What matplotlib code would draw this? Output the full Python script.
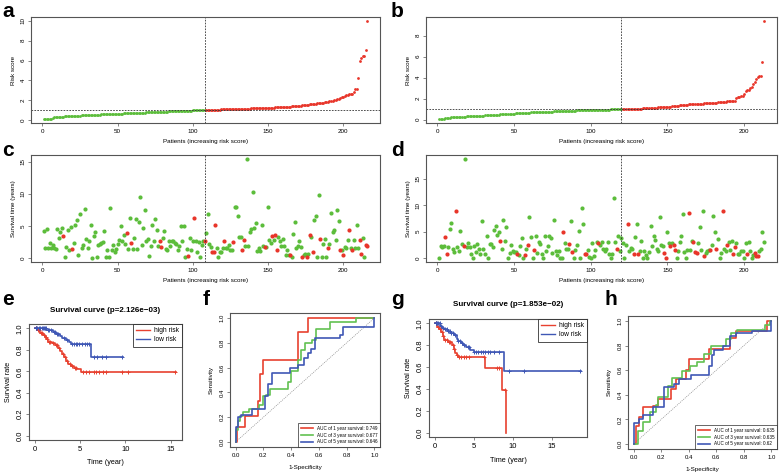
import numpy as np
import matplotlib.pyplot as plt

plt.rcParams['font.family'] = ['Liberation Sans', 'DejaVu Sans']

# Colores
GREEN = '#5cbd3b'
RED = '#e8352a'
KM_RED = '#e8412f'
KM_BLUE = '#3f57b5'
ROC_GREEN = '#62c151'
FRAME = '#555555'

# ---------------- datos: risk score (a, b) ----------------
risk_a = [
    0.08, 0.09, 0.10, 0.11, 0.12, 0.13, 0.16, 0.26, 0.28, 0.29, 0.31, 0.32,
    0.33, 0.34, 0.35, 0.36, 0.37, 0.38, 0.39, 0.40, 0.40, 0.41, 0.42, 0.43,
    0.44, 0.45, 0.45, 0.46, 0.47, 0.48, 0.49, 0.50, 0.50, 0.51, 0.52, 0.53,
    0.53, 0.54, 0.55, 0.55, 0.56, 0.57, 0.57, 0.58, 0.59, 0.59, 0.60, 0.61,
    0.61, 0.62, 0.63, 0.63, 0.64, 0.65, 0.65, 0.66, 0.67, 0.67, 0.68, 0.69,
    0.69, 0.70, 0.71, 0.71, 0.72, 0.73, 0.73, 0.74, 0.75, 0.75, 0.76, 0.77,
    0.77, 0.78, 0.79, 0.79, 0.80, 0.81, 0.81, 0.82, 0.83, 0.83, 0.84, 0.85,
    0.85, 0.86, 0.87, 0.87, 0.88, 0.89, 0.89, 0.90, 0.91, 0.91, 0.92, 0.93,
    0.93, 0.94, 0.94, 0.95, 0.96, 0.96, 0.97, 0.97, 0.98, 0.98, 0.99, 1.00,
    1.00, 1.00, 1.01, 1.01, 1.02, 1.02, 1.03, 1.03, 1.04, 1.04, 1.05, 1.05,
    1.06, 1.06, 1.07, 1.07, 1.08, 1.08, 1.09, 1.09, 1.10, 1.10, 1.11, 1.11,
    1.12, 1.12, 1.13, 1.13, 1.14, 1.14, 1.15, 1.15, 1.16, 1.16, 1.17, 1.17,
    1.18, 1.18, 1.19, 1.19, 1.20, 1.20, 1.21, 1.22, 1.23, 1.24, 1.25, 1.26,
    1.27, 1.28, 1.29, 1.30, 1.31, 1.32, 1.33, 1.34, 1.35, 1.36, 1.37, 1.38,
    1.39, 1.40, 1.42, 1.44, 1.46, 1.48, 1.50, 1.52, 1.54, 1.56, 1.58, 1.60,
    1.62, 1.64, 1.66, 1.68, 1.70, 1.72, 1.74, 1.77, 1.80, 1.84, 1.88, 1.92,
    1.95, 1.98, 2.00, 2.06, 2.12, 2.20, 2.28, 2.36, 2.44, 2.50, 2.54, 2.57,
    2.60, 2.65, 2.85, 3.10, 3.12, 4.20, 6.00, 6.30, 6.45, 6.50, 7.10, 10.00,
]
cut_a = 108

risk_b = [
    0.06, 0.07, 0.08, 0.09, 0.12, 0.15, 0.18, 0.20, 0.21, 0.22, 0.23, 0.24,
    0.25, 0.26, 0.27, 0.28, 0.29, 0.30, 0.31, 0.32, 0.33, 0.34, 0.35, 0.35,
    0.36, 0.37, 0.38, 0.39, 0.40, 0.40, 0.41, 0.42, 0.43, 0.44, 0.45, 0.45,
    0.46, 0.47, 0.48, 0.49, 0.50, 0.51, 0.52, 0.53, 0.54, 0.55, 0.56, 0.57,
    0.58, 0.59, 0.60, 0.61, 0.62, 0.63, 0.64, 0.65, 0.66, 0.67, 0.68, 0.68,
    0.69, 0.70, 0.70, 0.71, 0.72, 0.72, 0.73, 0.74, 0.74, 0.75, 0.76, 0.76,
    0.77, 0.78, 0.78, 0.79, 0.80, 0.80, 0.81, 0.82, 0.82, 0.83, 0.84, 0.84,
    0.85, 0.85, 0.86, 0.86, 0.87, 0.87, 0.88, 0.88, 0.89, 0.89, 0.90, 0.90,
    0.91, 0.91, 0.92, 0.92, 0.93, 0.93, 0.94, 0.94, 0.95, 0.95, 0.96, 0.96,
    0.96, 0.97, 0.97, 0.97, 0.98, 0.98, 0.98, 0.99, 0.99, 0.99, 1.00, 1.00,
    1.00, 1.01, 1.01, 1.02, 1.02, 1.03, 1.03, 1.04, 1.04, 1.05, 1.05, 1.06,
    1.06, 1.07, 1.08, 1.09, 1.10, 1.11, 1.12, 1.13, 1.14, 1.15, 1.16, 1.17,
    1.18, 1.19, 1.20, 1.21, 1.22, 1.23, 1.24, 1.25, 1.27, 1.29, 1.31, 1.33,
    1.35, 1.37, 1.39, 1.40, 1.41, 1.42, 1.44, 1.45, 1.46, 1.47, 1.48, 1.49,
    1.50, 1.51, 1.52, 1.53, 1.54, 1.55, 1.56, 1.57, 1.58, 1.59, 1.60, 1.61,
    1.62, 1.63, 1.64, 1.65, 1.67, 1.69, 1.71, 1.73, 1.75, 1.76, 1.77, 1.78,
    1.80, 1.82, 2.05, 2.15, 2.20, 2.22, 2.25, 2.40, 2.70, 2.80, 2.85, 3.05,
    3.10, 3.40, 3.55, 3.90, 4.10, 4.15, 4.15, 5.50, 9.40,
]
cut_b = 120

# ---------------- datos: survival time (c, d) ----------------
time_c = [
    4.2, 1.5, 4.5, 1.5, 2.4, 1.5, 2.1, 1.5, 1.4, 4.5, 3.1, 4.0,
    4.7, 3.4, 0.1, 1.7, 4.3, 1.3, 4.8, 1.4, 2.3, 5.2, 5.9, 0.5,
    6.8, 1.5, 2.0, 7.6, 3.0, 1.5, 2.6, 5.1, 0.0, 3.4, 4.0, 0.1,
    2.0, 2.2, 2.4, 2.5, 4.2, 0.1, 1.2, 0.2, 7.7, 1.2, 2.0, 0.9,
    1.4, 2.2, 2.8, 5.0, 2.6, 3.6, 2.2, 3.9, 1.4, 6.3, 2.4, 1.4,
    3.1, 6.1, 1.4, 5.6, 9.5, 2.1, 4.7, 7.4, 2.6, 2.9, 0.3, 1.9,
    5.2, 2.6, 6.1, 4.3, 1.9, 2.7, 1.7, 3.1, 4.2, 1.4, 1.3, 2.6,
    1.9, 2.7, 2.6, 2.4, 2.2, 1.2, 1.9, 5.0, 2.6, 5.0, 0.2, 1.4,
    0.3, 3.1, 1.2, 2.6, 6.2, 2.7, 1.0, 2.5, 0.2, 2.0, 2.7, 2.7,
    3.9, 6.8, 2.2, 1.7, 1.0, 1.0, 5.1, 1.5, 0.1, 1.0, 0.9, 1.5,
    2.7, 1.5, 1.5, 2.0, 1.2, 1.3, 2.5, 8.0, 8.0, 6.6, 3.2, 3.2,
    1.2, 2.8, 1.9, 15.4, 1.9, 4.1, 4.5, 10.3, 4.6, 5.4, 1.1, 1.5,
    1.1, 5.1, 1.9, 1.7, 1.7, 8.0, 2.8, 2.4, 3.4, 2.8, 3.6, 1.2,
    3.2, 2.6, 1.9, 2.9, 1.9, 0.4, 1.2, 0.4, 0.4, 0.2, 3.8, 5.6,
    1.5, 1.8, 2.7, 1.7, 0.2, 0.4, 0.6, 0.2, 0.7, 3.6, 3.3, 0.9,
    5.9, 6.5, 0.1, 9.8, 3.0, 0.1, 2.2, 3.0, 0.1, 1.5, 2.2, 7.0,
    4.0, 4.3, 2.8, 7.4, 5.8, 1.2, 1.2, 0.4, 1.7, 1.5, 2.8, 4.3,
    1.5, 1.2, 2.8, 1.6, 5.1, 1.6, 2.8, 0.6, 3.1, 0.1, 2.1, 1.8,
]
dead_c = [14, 20, 56, 59, 78, 79, 97, 101, 108, 113, 114, 115, 121, 127,
          133, 134, 148, 153, 155, 156, 165, 173, 176, 178, 180, 185, 190,
          198, 200, 204, 206, 211, 212, 215, 216]

time_d = [
    0.0, 2.3, 2.0, 2.2, 3.9, 0.8, 2.0, 5.5, 6.7, 1.8, 1.2, 8.9,
    2.0, 1.4, 5.1, 2.6, 2.2, 18.8, 2.0, 2.9, 2.0, 0.8, 0.1, 2.3,
    1.2, 2.7, 1.7, 0.8, 7.0, 1.7, 0.8, 4.2, 0.0, 2.7, 2.6, 2.0,
    5.4, 6.1, 4.3, 4.9, 3.3, 1.8, 7.3, 3.3, 5.9, 0.1, 1.0, 2.5,
    1.3, 1.2, 1.1, 0.8, 0.5, 2.3, 3.8, 0.0, 0.6, 1.7, 2.5, 7.8,
    3.9, 0.0, 1.6, 4.1, 1.0, 3.1, 2.7, 0.8, 0.1, 4.1, 1.3, 2.2,
    4.2, 3.8, 1.0, 7.2, 1.4, 0.5, 1.4, 0.0, 0.0, 4.9, 2.9, 1.7,
    1.8, 2.7, 7.0, 1.2, 0.1, 1.6, 2.5, 5.1, 0.0, 9.5, 6.5, 0.8,
    0.8, 1.5, 0.2, 0.1, 2.9, 0.3, 1.6, 3.1, 2.9, 2.5, 3.0, 1.7,
    1.3, 1.8, 3.0, 0.8, 0.0, 0.8, 11.4, 3.1, 1.8, 4.2, 1.4, 3.8,
    2.8, 0.0, 2.4, 6.4, 1.4, 1.9, 1.8, 0.8, 3.9, 6.4, 0.8, 1.4,
    3.3, 0.1, 1.3, 0.5, 0.0, 1.2, 6.0, 2.3, 4.2, 3.5, 1.8, 1.3,
    7.7, 2.4, 2.2, 0.9, 0.1, 4.9, 2.9, 2.3, 2.8, 2.5, 1.5, 0.1,
    1.3, 3.1, 4.2, 8.4, 1.2, 0.0, 1.5, 8.5, 1.5, 3.3, 3.1, 1.2,
    1.0, 2.8, 5.9, 1.5, 9.0, 0.3, 1.0, 1.3, 1.5, 1.6, 2.5, 8.0,
    5.0, 1.8, 3.7, 0.1, 1.0, 9.0, 1.7, 1.4, 2.5, 3.1, 1.6, 3.3,
    0.8, 2.1, 2.9, 0.8, 0.8, 1.4, 1.4, 0.0, 2.9, 0.8, 3.0, 1.4,
    0.1, 0.5, 1.0, 0.4, 0.3, 1.4, 1.8, 5.0, 3.0,
]
dead_d = [5, 6, 12, 17, 41, 52, 57, 59, 63, 82, 86, 88, 96, 97, 105, 117,
          124, 128, 131, 148, 149, 152, 154, 155, 164, 167, 168, 169, 174,
          178, 182, 186, 189, 193, 194, 202, 207, 208, 209]

# ---------------- datos: Kaplan-Meier (e, g) ----------------
e_high_t = [0.3, 0.6, 0.9, 1.1, 1.3, 1.5, 1.9, 2.2, 2.6, 2.8, 3.0, 3.2, 3.4, 3.7, 4.0, 4.3, 4.7, 5.1]
e_high_s = [0.98, 0.96, 0.94, 0.92, 0.90, 0.87, 0.86, 0.84, 0.82, 0.79, 0.76, 0.73, 0.70, 0.67, 0.65, 0.63, 0.62, 0.59]
e_high_end = 15.6
e_high_cens = [0.1, 0.2, 0.4, 0.5, 0.7, 0.8, 1.0, 1.2, 1.4, 1.6, 1.7, 2.0, 2.3, 2.5, 2.7, 3.1, 3.3,
               3.6, 3.9, 4.1, 4.4, 4.6, 5.3, 5.6, 6.0, 6.5, 6.8, 7.1, 7.5, 7.9, 9.6, 10.3, 15.5]
e_low_t = [1.3, 2.0, 2.4, 2.8, 3.0, 3.4, 3.8, 4.0, 6.2]
e_low_s = [0.98, 0.97, 0.95, 0.93, 0.91, 0.89, 0.87, 0.85, 0.73]
e_low_end = 9.7
e_low_cens = [0.1, 0.2, 0.3, 0.5, 0.6, 0.8, 0.9, 1.0, 1.1, 1.2, 1.5, 1.6, 1.8, 2.1, 2.2, 2.5, 2.6,
              3.2, 3.6, 4.1, 4.3, 4.5, 4.7, 4.9, 5.2, 5.5, 5.8, 6.0, 6.5, 6.9, 7.4, 7.8, 9.6]
e_title = 'Survival curve (p=2.126e\u221203)'

g_high_t = [0.3, 0.5, 0.8, 1.0, 1.2, 1.7, 2.2, 2.4, 2.6, 2.8, 3.0, 6.5, 8.6, 9.1]
g_high_s = [0.97, 0.95, 0.92, 0.88, 0.85, 0.83, 0.80, 0.77, 0.73, 0.71, 0.69, 0.59, 0.39, 0.0]
g_high_end = 9.1
g_high_cens = [0.1, 0.2, 0.4, 0.6, 0.9, 1.1, 1.3, 1.5, 1.8, 2.0, 2.3, 2.5, 2.9, 3.1, 3.4, 3.7,
               4.0, 4.4, 6.3, 8.0, 8.3, 9.0]
g_low_t = [0.7, 0.9, 1.2, 1.6, 2.0, 2.4, 2.8, 3.0, 3.3, 3.6, 4.0, 4.5, 5.0, 8.9]
g_low_s = [0.98, 0.96, 0.95, 0.93, 0.91, 0.89, 0.86, 0.84, 0.82, 0.80, 0.78, 0.76, 0.74, 0.56]
g_low_end = 18.8
g_low_cens = [0.1, 0.2, 0.3, 0.4, 0.6, 0.8, 1.0, 1.3, 1.5, 1.7, 1.9, 2.1, 2.3, 2.6, 3.0, 3.2,
              3.5, 3.8, 4.2, 4.4, 5.0, 5.3, 5.6, 5.9, 6.2, 6.5, 6.8, 7.1, 7.6, 8.2, 9.5, 11.4, 18.7]
g_title = 'Survival curve (p=1.853e\u221202)'

# ---------------- datos: ROC (f, h) ----------------
f_fpr_1 = [0, 0.01, 0.01, 0.065, 0.065, 0.165, 0.165, 0.175, 0.175, 0.20, 0.20, 0.45, 0.45, 0.52, 0.52, 1.0]
f_tpr_1 = [0, 0.0, 0.12, 0.12, 0.21, 0.21, 0.33, 0.33, 0.55, 0.55, 0.66, 0.66, 0.89, 0.89, 1.0, 1.0]
f_fpr_3 = [0, 0.005, 0.005, 0.02, 0.02, 0.03, 0.03, 0.05, 0.05, 0.10, 0.10, 0.17, 0.17, 0.20, 0.20, 0.22,
           0.22, 0.25, 0.25, 0.38, 0.38, 0.40, 0.40, 0.45, 0.45, 0.47, 0.47, 0.50, 0.50, 0.55, 0.55,
           0.58, 0.58, 0.68, 0.68, 0.87, 0.87, 1.0]
f_tpr_3 = [0, 0, 0.10, 0.10, 0.17, 0.17, 0.21, 0.21, 0.24, 0.24, 0.27, 0.27, 0.30, 0.30, 0.37, 0.37,
           0.38, 0.38, 0.43, 0.43, 0.48, 0.48, 0.57, 0.57, 0.66, 0.66, 0.74, 0.74, 0.80, 0.80, 0.82,
           0.82, 0.91, 0.91, 0.97, 0.97, 1.0, 1.0]
f_fpr_5 = [0, 0, 0.02, 0.02, 0.04, 0.04, 0.12, 0.12, 0.21, 0.21, 0.23, 0.23, 0.26, 0.26, 0.39, 0.39,
           0.45, 0.45, 0.49, 0.49, 0.52, 0.52, 0.54, 0.54, 0.57, 0.57, 0.75, 0.75, 0.77, 0.77, 1.0, 1.0]
f_tpr_5 = [0, 0.12, 0.12, 0.20, 0.20, 0.22, 0.22, 0.27, 0.27, 0.37, 0.37, 0.47, 0.47, 0.56, 0.56, 0.60,
           0.60, 0.62, 0.62, 0.68, 0.68, 0.72, 0.72, 0.75, 0.75, 0.84, 0.84, 0.86, 0.86, 0.93, 0.93, 1.0]
f_auc = ['0.749', '0.677', '0.646']

h_fpr_1 = [0, 0.02, 0.02, 0.04, 0.04, 0.07, 0.07, 0.14, 0.14, 0.18, 0.18, 0.27, 0.27, 0.31, 0.31, 0.38,
           0.38, 0.40, 0.40, 0.55, 0.55, 0.70, 0.70, 0.74, 0.74, 0.97, 0.97, 1.0]
h_tpr_1 = [0, 0, 0.15, 0.15, 0.22, 0.22, 0.30, 0.30, 0.31, 0.31, 0.37, 0.37, 0.45, 0.45, 0.53, 0.53,
           0.60, 0.60, 0.69, 0.69, 0.77, 0.77, 0.86, 0.86, 0.92, 0.92, 1.0, 1.0]
h_fpr_3 = [0, 0.03, 0.03, 0.07, 0.07, 0.12, 0.12, 0.16, 0.16, 0.18, 0.18, 0.25, 0.25, 0.28, 0.28, 0.35,
           0.35, 0.41, 0.41, 0.46, 0.46, 0.51, 0.51, 0.56, 0.56, 0.67, 0.67, 0.71, 0.71, 0.75, 0.75,
           0.95, 0.95, 0.99, 0.99, 1.0]
h_tpr_3 = [0, 0, 0.11, 0.11, 0.18, 0.18, 0.26, 0.26, 0.32, 0.32, 0.38, 0.38, 0.47, 0.47, 0.54, 0.54,
           0.59, 0.59, 0.63, 0.63, 0.67, 0.67, 0.73, 0.73, 0.80, 0.80, 0.85, 0.85, 0.90, 0.90, 0.93,
           0.93, 0.97, 0.97, 1.0, 1.0]
h_fpr_5 = [0, 0, 0.04, 0.04, 0.07, 0.07, 0.14, 0.14, 0.22, 0.22, 0.29, 0.29, 0.33, 0.33, 0.42, 0.42,
           0.55, 0.55, 0.57, 0.57, 0.58, 0.58, 0.65, 0.65, 0.70, 0.70, 0.74, 0.74, 0.86, 0.86, 1.0, 1.0]
h_tpr_5 = [0, 0.17, 0.17, 0.20, 0.20, 0.24, 0.24, 0.30, 0.30, 0.46, 0.46, 0.49, 0.49, 0.53, 0.53, 0.56,
           0.56, 0.63, 0.63, 0.72, 0.72, 0.76, 0.76, 0.80, 0.80, 0.88, 0.88, 0.90, 0.90, 0.92, 0.92, 1.0]
h_auc = ['0.635', '0.635', '0.62']


def style_axes(ax, fs):
    for sp in ax.spines.values():
        sp.set_color(FRAME)
        sp.set_linewidth(0.8)
    ax.tick_params(length=2.5, width=0.5, color=FRAME, labelsize=fs, pad=1.5)
    ax.tick_params(axis='y', labelrotation=90)
    for lab in ax.get_yticklabels():
        lab.set_va('center')


def panel_letter(x, y, s):
    fig.text(x / 779, 1 - y / 472, s, fontsize=15, fontweight='bold', va='top', ha='left')


def risk_panel(ax, risk, cut, yticks):
    n = len(risk)
    x = np.arange(1, n + 1)
    r = np.array(risk)
    ax.plot(x[:cut], r[:cut], 'o', color=GREEN, markersize=2.0, markeredgewidth=0)
    ax.plot(x[cut:], r[cut:], 'o', color=RED, markersize=2.0, markeredgewidth=0)
    ax.axvline(cut, color='#333333', linestyle=(0, (2, 1.5)), linewidth=0.6)
    ax.axhline(r[cut - 1], color='#333333', linestyle=(0, (2, 1.5)), linewidth=0.6)
    pad = 0.04 * (n - 1)
    ax.set_xlim(1 - pad, n + pad)
    rng = max(r) - min(r)
    ax.set_ylim(min(r) - 0.04 * rng, max(r) + 0.04 * rng)
    ax.set_xticks([0, 50, 100, 150, 200])
    ax.set_yticks(yticks)
    ax.set_xlabel('Patients (increasing risk score)', fontsize=4.5, labelpad=4)
    ax.set_ylabel('Risk score', fontsize=4.5, labelpad=3)
    style_axes(ax, 4.5)


def surv_panel(ax, times, dead, cut):
    n = len(times)
    x = np.arange(1, n + 1)
    t = np.array(times)
    is_dead = np.isin(x, dead)
    ax.plot(x[~is_dead], t[~is_dead], 'o', color=GREEN, markersize=3.0, markeredgewidth=0)
    ax.plot(x[is_dead], t[is_dead], 'o', color=RED, markersize=3.0, markeredgewidth=0)
    ax.axvline(cut, color='#333333', linestyle=(0, (2, 1.5)), linewidth=0.6)
    pad = 0.04 * (n - 1)
    ax.set_xlim(1 - pad, n + pad)
    ax.set_ylim(-0.04 * max(t), 1.04 * max(t))
    ax.set_xticks([0, 50, 100, 150, 200])
    ax.set_yticks([0, 5, 10, 15])
    ax.set_xlabel('Patients (increasing risk score)', fontsize=4.5, labelpad=4)
    ax.set_ylabel('Survival time (years)', fontsize=4.5, labelpad=3)
    style_axes(ax, 4.5)


def step_at(tt, ss, t):
    # valor de la curva KM en el tiempo t
    i = np.searchsorted(tt, t, side='right')
    return 1.0 if i == 0 else ss[i - 1]


def km_panel(ax, hi_t, hi_s, hi_end, hi_c, lo_t, lo_s, lo_end, lo_c, title):
    for tt, ss, end, cens, col in [(hi_t, hi_s, hi_end, hi_c, KM_RED),
                                   (lo_t, lo_s, lo_end, lo_c, KM_BLUE)]:
        xs = [0] + tt + [end]
        ys = [1.0] + ss + [ss[-1]]
        ax.plot(xs, ys, drawstyle='steps-post', color=col, linewidth=1.2)
        cy = [step_at(tt, ss, c) for c in cens]
        ax.plot(cens, cy, '+', color=col, markersize=3.5, markeredgewidth=0.7)
    xmax = max(hi_end, lo_end)
    ax.set_xlim(-0.04 * xmax, 1.04 * xmax)
    ax.set_ylim(-0.04, 1.04)
    ax.set_xticks([0, 5, 10, 15])
    ax.set_yticks([0.0, 0.2, 0.4, 0.6, 0.8, 1.0])
    ax.set_xlabel('Time (year)', fontsize=5.2, labelpad=5)
    ax.set_ylabel('Survival rate', fontsize=5.2, labelpad=3)
    ax.set_title(title, fontsize=5.8, fontweight='bold', pad=9)
    handles = [plt.Line2D([], [], color=KM_RED, lw=1.0), plt.Line2D([], [], color=KM_BLUE, lw=1.0)]
    leg = ax.legend(handles, ['high risk', 'low risk'], loc='upper right', fontsize=4.8,
                    frameon=True, fancybox=False, borderaxespad=0, handlelength=2.0,
                    borderpad=0.5, labelspacing=0.3, handletextpad=0.6)
    leg.get_frame().set_edgecolor('#222222')
    leg.get_frame().set_linewidth(0.7)
    style_axes(ax, 5.5)


def roc_panel(ax, curves, aucs):
    ax.plot([0, 1], [0, 1], color='#888888', linestyle=(0, (1.5, 1.5)), linewidth=0.5)
    cols = [KM_RED, ROC_GREEN, KM_BLUE]
    handles = []
    for (fpr, tpr), col, yr, auc in zip(curves, cols, [1, 3, 5], aucs):
        ln, = ax.plot(fpr, tpr, color=col, linewidth=1.2,
                      label=f'AUC of {yr} year survival: {auc}')
        handles.append(ln)
    ax.set_xlim(-0.04, 1.04)
    ax.set_ylim(-0.04, 1.04)
    ax.set_xticks([0.0, 0.2, 0.4, 0.6, 0.8, 1.0])
    ax.set_yticks([0.0, 0.2, 0.4, 0.6, 0.8, 1.0])
    ax.set_xlabel('1-Specificity', fontsize=4.5, labelpad=5)
    ax.set_ylabel('Sensitivity', fontsize=4.5, labelpad=4)
    leg = ax.legend(handles=handles, loc='lower right', fontsize=3.3, frameon=True,
                    fancybox=False, borderaxespad=0, handlelength=2.6,
                    borderpad=0.6, labelspacing=0.35)
    leg.get_frame().set_edgecolor('#222222')
    leg.get_frame().set_linewidth(0.6)
    style_axes(ax, 4.3)


fig = plt.figure(figsize=(7.79, 4.72), dpi=100)


def add_ax(l, t, r, b):
    # posiciones en pixeles de la imagen original
    return fig.add_axes([l / 779, 1 - b / 472, (r - l) / 779, (b - t) / 472])


ax_a = add_ax(31, 17, 380, 123)
ax_b = add_ax(426, 17, 777, 123)
ax_c = add_ax(31, 155, 380, 262)
ax_d = add_ax(426, 155, 777, 262)
ax_e = add_ax(29, 324, 182, 440)
ax_f = add_ax(230, 313, 380, 447)
ax_g = add_ax(429, 319, 587, 437)
ax_h = add_ax(628, 316, 777, 449)

risk_panel(ax_a, risk_a, cut_a, [0, 2, 4, 6, 8, 10])
risk_panel(ax_b, risk_b, cut_b, [0, 2, 4, 6, 8])
surv_panel(ax_c, time_c, dead_c, cut_a)
surv_panel(ax_d, time_d, dead_d, cut_b)
km_panel(ax_e, e_high_t, e_high_s, e_high_end, e_high_cens,
         e_low_t, e_low_s, e_low_end, e_low_cens, e_title)
km_panel(ax_g, g_high_t, g_high_s, g_high_end, g_high_cens,
         g_low_t, g_low_s, g_low_end, g_low_cens, g_title)
roc_panel(ax_f, [(f_fpr_1, f_tpr_1), (f_fpr_3, f_tpr_3), (f_fpr_5, f_tpr_5)], f_auc)
roc_panel(ax_h, [(h_fpr_1, h_tpr_1), (h_fpr_3, h_tpr_3), (h_fpr_5, h_tpr_5)], h_auc)

panel_letter(2, 2, 'a')
panel_letter(391, 2, 'b')
panel_letter(2, 141, 'c')
panel_letter(391, 141, 'd')
panel_letter(2, 290, 'e')
panel_letter(203, 290, 'f')
panel_letter(391, 290, 'g')
panel_letter(604, 290, 'h')

plt.savefig('out.png', dpi=100)
